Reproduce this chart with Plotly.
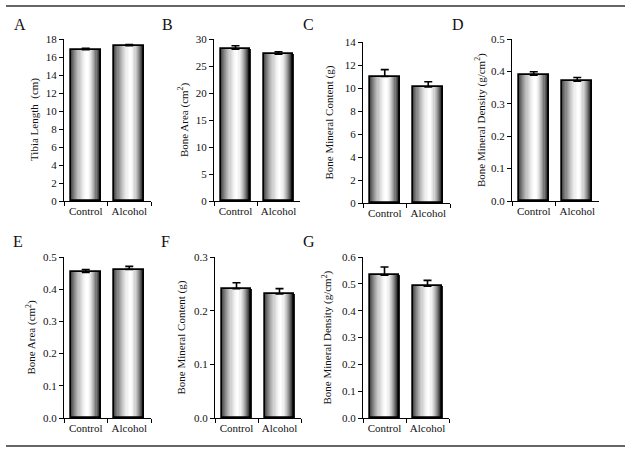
import plotly.graph_objects as go

W, H = 631, 453

categories = ["Control", "Alcohol"]

tibia_length = [16.8, 17.25]
tibia_length_err = [0.17, 0.13]
tibia_area = [28.1, 27.2]
tibia_area_err = [0.65, 0.45]
tibia_bmc = [11.0, 10.1]
tibia_bmc_err = [0.6, 0.44]
tibia_bmd = [0.388, 0.370]
tibia_bmd_err = [0.011, 0.011]
e_area = [0.452, 0.461]
e_area_err = [0.009, 0.01]
f_bmc = [0.241, 0.231]
f_bmc_err = [0.011, 0.01]
g_bmd = [0.532, 0.491]
g_bmd_err = [0.031, 0.022]

panels = [
    dict(letter="A", vals=tibia_length, errs=tibia_length_err, title="Tibia Length  (cm)",
         ymax=18, dtick=2, fmt="d", x0=64, x1=151, yt=39, yb=201, tx=34, lx=20, ly=24),
    dict(letter="B", vals=tibia_area, errs=tibia_area_err, title="Bone Area (cm<sup>2</sup>)",
         ymax=30, dtick=5, fmt="d", x0=214, x1=300, yt=39, yb=201, tx=183, lx=167, ly=24),
    dict(letter="C", vals=tibia_bmc, errs=tibia_bmc_err, title="Bone Mineral Content (g)",
         ymax=14, dtick=2, fmt="d", x0=363, x1=450, yt=42, yb=203, tx=329, lx=308, ly=24),
    dict(letter="D", vals=tibia_bmd, errs=tibia_bmd_err, title="Bone Mineral Density (g/cm<sup>2</sup>)",
         ymax=0.5, dtick=0.1, fmt=".1f", x0=512, x1=599, yt=39, yb=201, tx=480, lx=458, ly=24),
    dict(letter="E", vals=e_area, errs=e_area_err, title="Bone Area (cm<sup>2</sup>)",
         ymax=0.5, dtick=0.1, fmt=".1f", x0=64, x1=151, yt=257, yb=418, tx=31, lx=18, ly=241),
    dict(letter="F", vals=f_bmc, errs=f_bmc_err, title="Bone Mineral Content (g)",
         ymax=0.3, dtick=0.1, fmt=".1f", x0=215, x1=301, yt=257, yb=418, tx=181, lx=165, ly=241),
    dict(letter="G", vals=g_bmd, errs=g_bmd_err, title="Bone Mineral Density (g/cm<sup>2</sup>)",
         ymax=0.6, dtick=0.1, fmt=".1f", x0=363, x1=449, yt=257, yb=418, tx=327, lx=309, ly=241),
]

N = 26
BW = 0.68
PEAK, VL, VR = 0.56, 0.28, 0.06


def gray(t):
    if t < PEAK:
        v = 1 - (1 - VL) * ((PEAK - t) / PEAK) ** 1.6
    else:
        v = 1 - (1 - VR) * ((t - PEAK) / (1 - PEAK)) ** 1.6
    c = int(round(255 * max(0, min(1, v))))
    return f"rgb({c},{c},{c})"


SERIF = "Liberation Serif"
fig = go.Figure()
font = dict(family=SERIF, size=11, color="#111")
annotations = []

for i, p in enumerate(panels):
    n = i + 1
    xa = "x" if n == 1 else f"x{n}"
    ya = "y" if n == 1 else f"y{n}"
    for k in range(N):
        off = -BW / 2 + k * BW / N
        w = BW / N * (1.25 if k < N - 1 else 1.0)
        fig.add_trace(go.Bar(
            x=categories, y=p["vals"], xaxis=xa, yaxis=ya,
            offset=off, width=w,
            marker=dict(color=gray((k + 0.5) / N), line=dict(width=0)),
            showlegend=False, hoverinfo="skip"))
    fig.add_trace(go.Bar(
        x=categories, y=p["vals"], xaxis=xa, yaxis=ya,
        offset=-BW / 2, width=BW,
        marker=dict(color="rgba(0,0,0,0)", line=dict(color="black", width=1.7)),
        error_y=dict(type="data", array=p["errs"], arrayminus=[0, 0], symmetric=False,
                     color="black", thickness=1.6, width=4),
        showlegend=False))

    xkey = "xaxis" if n == 1 else f"xaxis{n}"
    ykey = "yaxis" if n == 1 else f"yaxis{n}"
    fig.update_layout(**{
        xkey: dict(domain=[p["x0"] / W, p["x1"] / W], anchor=ya, type="category",
                   range=[-0.5, 1.5], showline=True, linecolor="black", linewidth=1.2,
                   ticks="outside", ticklen=4, tickcolor="black", tickson="boundaries",
                   tickangle=0, automargin=False,
                   showgrid=False, tickfont=font, zeroline=False, fixedrange=True),
        ykey: dict(domain=[1 - p["yb"] / H, 1 - p["yt"] / H], anchor=xa,
                   range=[0, p["ymax"]], dtick=p["dtick"], tick0=0, automargin=False,
                   tickformat=p["fmt"], showline=True, linecolor="black", linewidth=1.2,
                   ticks="outside", ticklen=4, tickcolor="black", showgrid=False,
                   zeroline=False, tickfont=font, fixedrange=True),
    })
    annotations.append(dict(text=p["title"], x=p["tx"] / W, y=1 - (p["yt"] + p["yb"]) / 2 / H,
                            xref="paper", yref="paper", xanchor="center", yanchor="middle",
                            textangle=-90, showarrow=False, font=font))
    annotations.append(dict(text=p["letter"], x=p["lx"] / W, y=1 - p["ly"] / H,
                            xref="paper", yref="paper", xanchor="center", yanchor="middle",
                            showarrow=False,
                            font=dict(family=SERIF, size=16, color="#111")))

shapes = [
    dict(type="line", xref="paper", yref="paper", x0=6 / W, x1=625 / W, y0=1 - 6 / H, y1=1 - 6 / H,
         line=dict(color="#333", width=1.5)),
    dict(type="line", xref="paper", yref="paper", x0=6 / W, x1=625 / W, y0=1 - 446 / H, y1=1 - 446 / H,
         line=dict(color="#333", width=1.5)),
]

fig.update_layout(width=W, height=H, margin=dict(l=0, r=0, t=0, b=0),
                  paper_bgcolor="white", plot_bgcolor="white",
                  barmode="overlay", bargap=0, annotations=annotations, shapes=shapes,
                  showlegend=False)

fig.write_html("out.html", config={"displayModeBar": False},
               post_script="document.body.style.margin='0';document.body.style.overflow='hidden';")
